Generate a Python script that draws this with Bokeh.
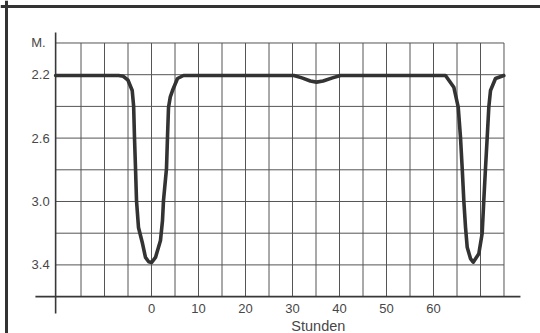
from bokeh.plotting import figure
from bokeh.models import Range1d, Span
from bokeh.embed import file_html
from bokeh.resources import INLINE
from bokeh.core.properties import value

# ---------------- data ----------------
# light curve: time in hours, brightness in magnitudes (M.)
hours = [-20.4, -7.0, -6.0, -5.0, -4.1, -3.8, -3.62, -3.40, -3.19, -2.77, -1.91, -1.28,
         -0.6, 0.0, 0.85, 1.91, 2.34, 2.55, 3.19, 3.40, 3.62, 4.0, 4.47, 5.53, 6.81,
         30.3, 32.0, 33.8, 35.1, 36.5, 38.5, 40.2,
         62.55, 64.32, 65.26, 65.74, 66.11, 66.45, 66.81, 67.17, 67.87, 68.45,
         69.64, 70.36, 70.70, 71.06, 71.43, 71.77, 72.13, 73.19, 74.96]
mags = [2.205, 2.205, 2.21, 2.235, 2.30, 2.40, 2.596, 2.792, 2.994, 3.164, 3.265, 3.353,
        3.38, 3.385, 3.353, 3.246, 3.12, 2.994, 2.792, 2.596, 2.407, 2.34, 2.30, 2.224, 2.205,
        2.205, 2.22, 2.24, 2.247, 2.24, 2.22, 2.205,
        2.205, 2.279, 2.405, 2.594, 2.792, 2.994, 3.162, 3.288, 3.36, 3.383,
        3.33, 3.20, 2.994, 2.792, 2.594, 2.405, 2.30, 2.224, 2.205]

x_tick_values = [0, 10, 20, 30, 40, 50, 60]
x_tick_labels = ["0", "10", "20", "30", "40", "50", "60"]
y_tick_values = [2.2, 2.6, 3.0, 3.4]
y_tick_labels = ["2.2", "2.6", "3.0", "3.4"]
y_unit_value = [2.0]
y_unit_label = ["M."]
x_title = ["Stunden"]
x_title_pos = [35.5]

v_grid = [-15, -10, -5, 0, 5, 10, 15, 20, 25, 30, 35, 40, 45, 50, 55, 60, 65, 70, 75]
h_grid = [2.0, 2.2, 2.4, 2.6, 2.8, 3.0, 3.2, 3.4]

# axis geometry (data units)
axis_x = -20.4        # hour where the vertical axis stands
axis_y = 3.6          # magnitude where the horizontal axis lies
grid_top = 2.0
grid_right = 75
vaxis_span = (1.934, 3.707)
haxis_span = (-24.7, 78.5)
frame_left = -30.85
frame_top = 1.7697

# ---------------- figure ----------------
p = figure(width=540, height=333,
           x_range=Range1d(-32.128, 82.766),
           y_range=Range1d(3.8328, 1.7319),
           x_axis_type=None, y_axis_type=None,
           output_backend="svg", toolbar_location=None,
           min_border=0, min_border_left=0, min_border_right=0,
           min_border_top=0, min_border_bottom=0)
p.outline_line_color = None
p.background_fill_color = "white"
p.border_fill_color = "white"

grid_col = "#555555"
ink = "#383838"
font = value("Liberation Sans")

# grid
p.segment(x0=v_grid, y0=[grid_top] * len(v_grid), x1=v_grid, y1=[axis_y] * len(v_grid),
          line_color=grid_col, line_width=1)
p.segment(x0=[axis_x] * len(h_grid), y0=h_grid, x1=[grid_right] * len(h_grid), y1=h_grid,
          line_color=grid_col, line_width=1)

# axis lines
p.segment(x0=[axis_x], y0=[vaxis_span[0]], x1=[axis_x], y1=[vaxis_span[1]],
          line_color=ink, line_width=1.6)
p.segment(x0=[haxis_span[0]], y0=[axis_y], x1=[haxis_span[1]], y1=[axis_y],
          line_color=ink, line_width=1.6)

# light curve
p.line(hours, mags, line_color="#333333", line_width=3.6,
       line_join="round", line_cap="round")

# labels
p.text(x=[axis_x] * len(y_tick_values), y=y_tick_values, text=y_tick_labels,
       text_align="right", text_baseline="middle", x_offset=-6,
       text_font=font, text_font_size="13px", text_color="#474747")
p.text(x=[axis_x], y=y_unit_value, text=y_unit_label,
       text_align="right", text_baseline="middle", x_offset=-10,
       text_font=font, text_font_size="13px", text_color="#474747")
p.text(x=x_tick_values, y=[axis_y] * len(x_tick_values), text=x_tick_labels,
       text_align="center", text_baseline="middle", y_offset=11.5,
       text_font=font, text_font_size="13px", text_color="#474747")
p.text(x=x_title_pos, y=[axis_y], text=x_title,
       text_align="center", text_baseline="middle", y_offset=29,
       text_font=font, text_font_size="14.5px", text_color="#474747")

# picture frame (top and left border of the printed figure)
p.add_layout(Span(location=frame_left, dimension="height", line_color="#333333", line_width=3))
p.add_layout(Span(location=frame_top, dimension="width", line_color="#333333", line_width=3))

open("out.html", "w").write(file_html(p, INLINE))
